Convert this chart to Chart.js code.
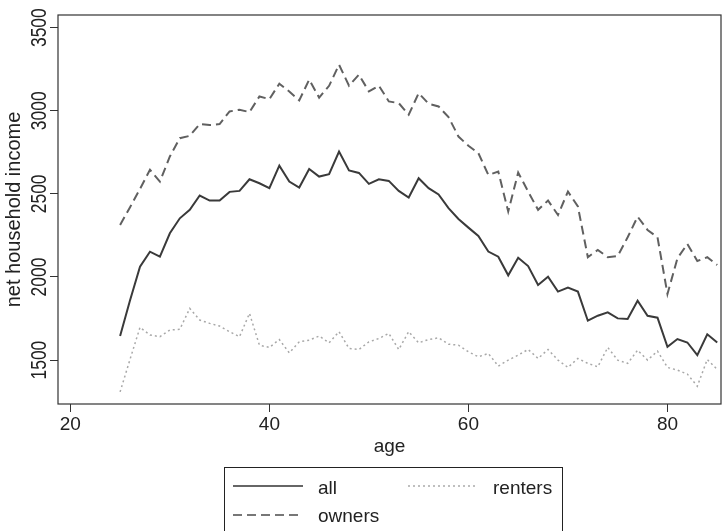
<!DOCTYPE html>
<html>
<head>
<meta charset="utf-8">
<script src="https://cdn.jsdelivr.net/npm/chart.js@4.4.1/dist/chart.umd.min.js"></script>
<style>
  html, body { margin: 0; padding: 0; background: #fff; overflow: hidden; }
  #wrap { position: relative; width: 724px; height: 531px; overflow: hidden; }
  #legend {
    position: absolute; left: 224px; top: 467px; width: 339px; height: 80px;
    border: 1px solid #222; box-sizing: border-box;
    font: 19px "Liberation Sans", Arial, sans-serif; color: #222;
  }
  #legend span { position: absolute; line-height: 1; white-space: nowrap; }
  #legend svg { position: absolute; left: 0; top: 0; }
</style>
</head>
<body>
<div id="wrap">
  <canvas id="chart" width="724" height="531"></canvas>
  <div id="legend">
    <svg width="339" height="80">
      <line x1="8" y1="18" x2="78" y2="18" stroke="#666" stroke-width="2"/>
      <line x1="183" y1="18" x2="252" y2="18" stroke="#aaa" stroke-width="1.5" stroke-dasharray="2 3"/>
      <line x1="8" y1="47" x2="78" y2="47" stroke="#777" stroke-width="2" stroke-dasharray="9 5"/>
    </svg>
    <span style="left:93px;top:10px">all</span>
    <span style="left:268px;top:10px">renters</span>
    <span style="left:93px;top:38px">owners</span>
  </div>
</div>
<script>
// age groups
const ages = [25, 26, 27, 28, 29, 30, 31, 32, 33, 34, 35, 36, 37, 38, 39, 40,
  41, 42, 43, 44, 45, 46, 47, 48, 49, 50, 51, 52, 53, 54, 55, 56, 57, 58, 59, 60,
  61, 62, 63, 64, 65, 66, 67, 68, 69, 70, 71, 72, 73, 74, 75, 76, 77, 78, 79, 80,
  81, 82, 83, 84, 85];

const allHh = [1645, 1860, 2062, 2152, 2122, 2263, 2353, 2404, 2490, 2460, 2460,
  2512, 2518, 2588, 2564, 2534, 2670, 2574, 2538, 2650, 2604, 2618, 2755, 2641,
  2626, 2560, 2588, 2578, 2518, 2478, 2594, 2534, 2497, 2414, 2349, 2297, 2247,
  2153, 2122, 2010, 2116, 2066, 1952, 2002, 1912, 1936, 1912, 1737, 1767, 1787,
  1751, 1747, 1857, 1767, 1755, 1580, 1627, 1606, 1530, 1655, 1606];

const owners = [2313, 2420, 2530, 2645, 2574, 2725, 2835, 2849, 2920, 2914, 2920,
  2996, 3006, 2992, 3086, 3070, 3163, 3116, 3062, 3187, 3079, 3150, 3277, 3151,
  3217, 3116, 3151, 3056, 3046, 2976, 3106, 3042, 3026, 2962, 2845, 2789, 2745,
  2614, 2634, 2394, 2628, 2514, 2404, 2460, 2373, 2514, 2424, 2119, 2163, 2119,
  2126, 2239, 2363, 2283, 2239, 1898, 2112, 2199, 2096, 2119, 2072];

const renters = [1309, 1505, 1697, 1651, 1641, 1681, 1685, 1811, 1741, 1721, 1705,
  1671, 1641, 1781, 1590, 1576, 1624, 1544, 1610, 1620, 1645, 1604, 1671, 1570,
  1564, 1610, 1630, 1661, 1564, 1671, 1604, 1624, 1634, 1596, 1590, 1550, 1520,
  1540, 1464, 1500, 1530, 1564, 1510, 1564, 1500, 1456, 1510, 1480, 1460, 1576,
  1500, 1480, 1560, 1500, 1554, 1456, 1440, 1416, 1343, 1504, 1444];

const xTicks = [20, 40, 60, 80];
const yTicks = [1500, 2000, 2500, 3000, 3500];

const FONT = '"Liberation Sans", Arial, sans-serif';

function pts(vals) {
  return ages.map((a, i) => ({ x: a, y: vals[i] }));
}

// box round the plot + rotated y labels
const frame = {
  id: "frame",
  afterDraw(chart) {
    const { ctx, chartArea: a, scales } = chart;
    ctx.save();
    ctx.strokeStyle = "#333";
    ctx.lineWidth = 1.2;
    ctx.strokeRect(a.left, a.top, a.right - a.left, a.bottom - a.top);
    const ys = scales.y;
    ctx.fillStyle = "#222";
    ctx.font = "19px " + FONT;
    ctx.textAlign = "center";
    ctx.textBaseline = "alphabetic";
    ys.ticks.forEach((t) => {
      const py = ys.getPixelForValue(t.value);
      ctx.save();
      ctx.translate(a.left - 12, py);
      ctx.rotate(-Math.PI / 2);
      ctx.scale(0.92, 1.2);
      ctx.fillText(String(t.value), 0, 0);
      ctx.restore();
    });
    ctx.restore();
  },
};

new Chart(document.getElementById("chart"), {
  type: "line",
  data: {
    datasets: [
      { label: "renters", data: pts(renters), borderColor: "#a8a8a8", borderWidth: 1.5, borderDash: [2, 3] },
      { label: "owners", data: pts(owners), borderColor: "#606060", borderWidth: 2, borderDash: [9, 5] },
      { label: "all", data: pts(allHh), borderColor: "#3a3a3a", borderWidth: 2 },
    ],
  },
  options: {
    responsive: false,
    animation: false,
    devicePixelRatio: 1,
    layout: { padding: { top: 15, right: 3, left: 0, bottom: 0 } },
    elements: { point: { radius: 0 }, line: { tension: 0 } },
    plugins: { legend: { display: false }, tooltip: { enabled: false } },
    scales: {
      x: {
        type: "linear",
        min: 18.76,
        max: 85.38,
        afterBuildTicks: (s) => { s.ticks = xTicks.map((v) => ({ value: v })); },
        afterFit: (s) => { s.height = 127; },
        grid: { drawOnChartArea: false, drawTicks: true, tickLength: 8, color: "#333" },
        border: { display: false },
        ticks: { color: "#222", padding: 1, maxRotation: 0, font: { family: FONT, size: 19 } },
        title: { display: true, text: "age", color: "#222", font: { family: FONT, size: 19 }, padding: { top: 0, bottom: 73 } },
      },
      y: {
        type: "linear",
        min: 1236,
        max: 3576,
        afterBuildTicks: (s) => { s.ticks = yTicks.map((v) => ({ value: v })); },
        afterFit: (s) => { s.width = 58; },
        grid: { drawOnChartArea: false, drawTicks: true, tickLength: 8, color: "#333" },
        border: { display: false },
        ticks: { display: false },
        title: { display: true, text: "net household income", color: "#222", font: { family: FONT, size: 20 }, padding: { top: 2, bottom: 0 } },
      },
    },
  },
  plugins: [frame],
});
</script>
</body>
</html>
